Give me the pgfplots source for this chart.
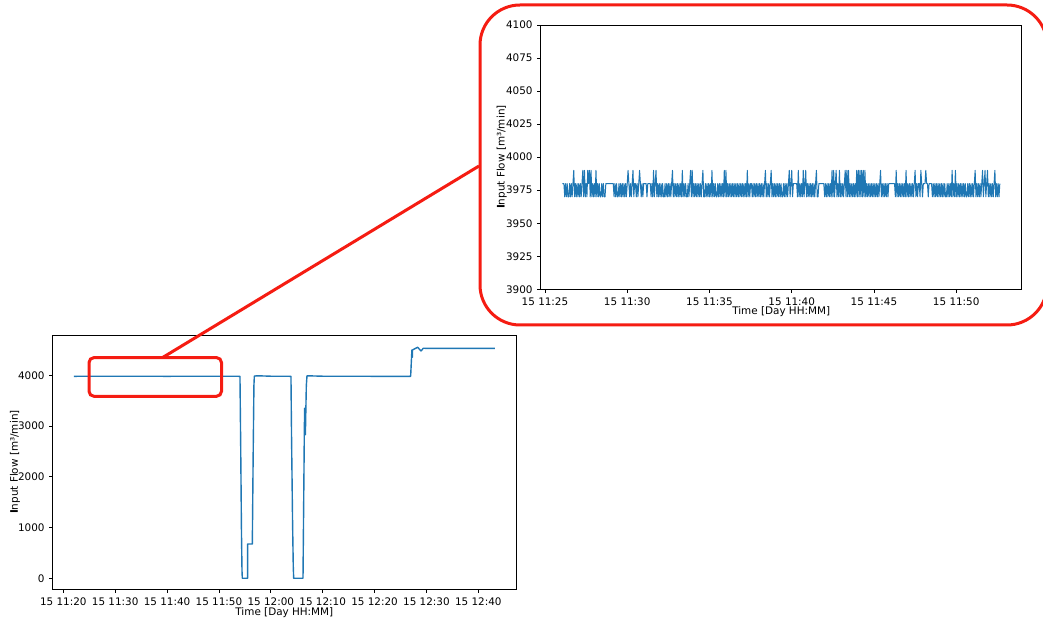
\documentclass[border=0pt]{standalone}
\usepackage{fontspec}
\setmainfont{DejaVu Sans}
\usepackage{pgfplots}
\pgfplotsset{compat=1.18}
\definecolor{mplblue}{HTML}{1F77B4}
\definecolor{zoomred}{RGB}{245,28,18}
\pgfplotsset{
 mystyle/.style={
  scale only axis,
  axis line style={line width=0.8bp, black},
  tick style={line width=0.8bp, black},
  tick align=outside,
  major tick length=3.5bp,
  xtick pos=bottom, ytick pos=left,
  xticklabel style={anchor=base, inner sep=0pt, yshift=-12.6bp},
  yticklabel style={anchor=east, inner sep=0pt, xshift=-4.5bp},
  x label style={anchor=base, inner sep=0pt},
  y label style={anchor=base, inner sep=0pt},
  every axis plot/.append style={line join=round},
 }
}
\begin{document}
\fontsize{10.4bp}{12.5bp}\selectfont
\begin{tikzpicture}[font=\fontsize{10.4bp}{12.5bp}\selectfont]
\path[use as bounding box] (0,0) rectangle (1043bp,620bp);

% ---------------- main axis ----------------
\begin{axis}[mystyle, name=main,
  at={(52.7bp,30.7bp)}, anchor=south west,
  width=463.3bp, height=254.3bp,
  xmin=17.96, xmax=107.27, ymin=-217, ymax=4794,
  xtick={20,30,40,50,60,70,80,90,100},
  xticklabels={15 11:20,15 11:30,15 11:40,15 11:50,15 12:00,15 12:10,15 12:20,15 12:30,15 12:40},
  ytick={0,1000,2000,3000,4000},
  yticklabels={0,1000,2000,3000,4000},
  xlabel={Time [Day HH:MM]},
  ylabel={\textbf{I}nput Flow [m³/min]},
  x label style={at={(axis description cs:0.5,-0.1045)}},
  y label style={at={(axis description cs:-0.075,0.5)}},
]
\addplot[mplblue, line width=1.4bp] coordinates {
(22.02,3980)(30.00,3982)(40.00,3980)(50.00,3982)(54.06,3980)
(54.20,2600)(54.35,900)(54.45,150)(54.51,0)(55.54,0)
(55.54,676)(56.44,676)(56.60,2400)(56.75,3800)(56.83,3985)(57.50,3990)
(60.00,3982)(63.89,3980)(64.00,2800)(64.20,1100)(64.33,250)(64.41,0)
(66.21,0)(66.46,2830)(66.52,3350)(66.55,2830)(66.58,3350)(66.61,2830)(66.64,3350)(66.67,2830)
(66.85,3800)(66.98,3990)(70.00,3982)(80.00,3980)(86.96,3980)
(87.20,4498)(87.28,4355)(87.32,4500)(88.31,4552)(88.96,4479)(89.40,4532)
(95.00,4530)(103.21,4530)
};
\end{axis}

% ---------------- inset axis ----------------
\begin{axis}[mystyle, name=inset,
  at={(540.7bp,330.7bp)}, anchor=south west,
  width=481bp, height=264.3bp,
  xmin=24.74, xmax=53.98, ymin=3900, ymax=4100,
  xtick={25,30,35,40,45,50},
  xticklabels={15 11:25,15 11:30,15 11:35,15 11:40,15 11:45,15 11:50},
  ytick={3900,3925,3950,3975,4000,4025,4050,4075,4100},
  yticklabels={3900,3925,3950,3975,4000,4025,4050,4075,4100},
  xlabel={Time [Day HH:MM]},
  ylabel={\textbf{I}nput Flow [m³/min]},
  x label style={at={(axis description cs:0.5,-0.0965)}},
  y label style={at={(axis description cs:-0.075,0.5)}},
]
\addplot[mplblue, line width=1bp] coordinates {
(26.05,3980)(26.10,3980)(26.15,3980)(26.20,3970)(26.25,3980)(26.30,3970)(26.35,3980)(26.40,3970)(26.45,3970)(26.50,3980)(26.55,3970)(26.60,3980)(26.65,3970)(26.70,3980)(26.75,3990)(26.80,3970)(26.85,3980)(26.90,3970)(26.95,3980)(27.00,3970)
(27.05,3980)(27.10,3970)(27.15,3980)(27.20,3970)(27.25,3980)(27.30,3990)(27.35,3970)(27.40,3990)(27.45,3970)(27.50,3980)(27.55,3970)(27.60,3990)(27.65,3980)(27.70,3990)(27.75,3970)(27.80,3990)(27.85,3970)(27.90,3980)(27.95,3970)(28.00,3980)
(28.05,3970)(28.10,3990)(28.15,3970)(28.20,3980)(28.25,3970)(28.30,3980)(28.35,3970)(28.40,3970)(28.45,3980)(28.50,3970)(28.55,3980)(28.60,3970)(28.65,3970)(28.70,3980)(28.75,3980)(28.80,3980)(28.85,3980)(28.90,3980)(28.95,3980)(29.00,3980)
(29.05,3980)(29.10,3980)(29.15,3980)(29.20,3970)(29.25,3980)(29.30,3970)(29.35,3980)(29.40,3970)(29.45,3970)(29.50,3980)(29.55,3970)(29.60,3980)(29.65,3970)(29.70,3980)(29.75,3970)(29.80,3980)(29.85,3970)(29.90,3980)(29.95,3970)(30.00,3980)
(30.05,3990)(30.10,3980)(30.15,3970)(30.20,3980)(30.25,3970)(30.30,3980)(30.35,3990)(30.40,3970)(30.45,3980)(30.50,3980)(30.55,3970)(30.60,3980)(30.65,3970)(30.70,3980)(30.75,3990)(30.80,3980)(30.85,3970)(30.90,3980)(30.95,3970)(31.00,3980)
(31.05,3980)(31.10,3980)(31.15,3980)(31.20,3970)(31.25,3980)(31.30,3980)(31.35,3980)(31.40,3980)(31.45,3970)(31.50,3980)(31.55,3970)(31.60,3990)(31.65,3970)(31.70,3980)(31.75,3990)(31.80,3970)(31.85,3980)(31.90,3970)(31.95,3980)(32.00,3970)
(32.05,3980)(32.10,3970)(32.15,3980)(32.20,3970)(32.25,3970)(32.30,3980)(32.35,3970)(32.40,3980)(32.45,3970)(32.50,3980)(32.55,3970)(32.60,3980)(32.65,3970)(32.70,3980)(32.75,3990)(32.80,3970)(32.85,3980)(32.90,3970)(32.95,3980)(33.00,3970)
(33.05,3980)(33.10,3970)(33.15,3980)(33.20,3970)(33.25,3980)(33.30,3970)(33.35,3990)(33.40,3970)(33.45,3980)(33.50,3970)(33.55,3980)(33.60,3970)(33.65,3970)(33.70,3980)(33.75,3970)(33.80,3980)(33.85,3990)(33.90,3970)(33.95,3990)(34.00,3970)
(34.05,3980)(34.10,3970)(34.15,3980)(34.20,3970)(34.25,3980)(34.30,3970)(34.35,3980)(34.40,3970)(34.45,3980)(34.50,3970)(34.55,3980)(34.60,3990)(34.65,3970)(34.70,3970)(34.75,3980)(34.80,3970)(34.85,3980)(34.90,3970)(34.95,3980)(35.00,3970)
(35.05,3980)(35.10,3970)(35.15,3990)(35.20,3970)(35.25,3980)(35.30,3970)(35.35,3980)(35.40,3970)(35.45,3970)(35.50,3980)(35.55,3970)(35.60,3980)(35.65,3970)(35.70,3980)(35.75,3970)(35.80,3980)(35.85,3970)(35.90,3990)(35.95,3970)(36.00,3990)
(36.05,3970)(36.10,3980)(36.15,3970)(36.20,3980)(36.25,3970)(36.30,3980)(36.35,3970)(36.40,3980)(36.45,3970)(36.50,3980)(36.55,3970)(36.60,3980)(36.65,3970)(36.70,3980)(36.75,3970)(36.80,3980)(36.85,3970)(36.90,3980)(36.95,3970)(37.00,3980)
(37.05,3970)(37.10,3980)(37.15,3970)(37.20,3980)(37.25,3970)(37.30,3990)(37.35,3970)(37.40,3980)(37.45,3970)(37.50,3980)(37.55,3980)(37.60,3970)(37.65,3980)(37.70,3970)(37.75,3980)(37.80,3970)(37.85,3980)(37.90,3970)(37.95,3980)(38.00,3970)
(38.05,3980)(38.10,3970)(38.15,3980)(38.20,3970)(38.25,3980)(38.30,3970)(38.35,3980)(38.40,3990)(38.45,3970)(38.50,3980)(38.55,3970)(38.60,3980)(38.65,3970)(38.70,3980)(38.75,3990)(38.80,3970)(38.85,3980)(38.90,3970)(38.95,3980)(39.00,3970)
(39.05,3980)(39.10,3970)(39.15,3980)(39.20,3970)(39.25,3980)(39.30,3970)(39.35,3980)(39.40,3970)(39.45,3970)(39.50,3980)(39.55,3970)(39.60,3980)(39.65,3970)(39.70,3980)(39.75,3970)(39.80,3980)(39.85,3990)(39.90,3970)(39.95,3980)(40.00,3990)
(40.05,3970)(40.10,3980)(40.15,3980)(40.20,3980)(40.25,3980)(40.30,3980)(40.35,3970)(40.40,3990)(40.45,3970)(40.50,3980)(40.55,3970)(40.60,3980)(40.65,3970)(40.70,3990)(40.75,3970)(40.80,3980)(40.85,3990)(40.90,3970)(40.95,3980)(41.00,3970)
(41.05,3980)(41.10,3970)(41.15,3980)(41.20,3970)(41.25,3980)(41.30,3970)(41.35,3980)(41.40,3970)(41.45,3980)(41.50,3990)(41.55,3970)(41.60,3970)(41.65,3980)(41.70,3980)(41.75,3980)(41.80,3980)(41.85,3980)(41.90,3980)(41.95,3980)(42.00,3970)
(42.05,3980)(42.10,3970)(42.15,3980)(42.20,3970)(42.25,3980)(42.30,3970)(42.35,3980)(42.40,3970)(42.45,3990)(42.50,3970)(42.55,3990)(42.60,3970)(42.65,3980)(42.70,3990)(42.75,3970)(42.80,3980)(42.85,3970)(42.90,3990)(42.95,3970)(43.00,3980)
(43.05,3970)(43.10,3980)(43.15,3970)(43.20,3980)(43.25,3990)(43.30,3970)(43.35,3990)(43.40,3970)(43.45,3990)(43.50,3970)(43.55,3980)(43.60,3970)(43.65,3980)(43.70,3970)(43.75,3980)(43.80,3970)(43.85,3980)(43.90,3970)(43.95,3990)(44.00,3970)
(44.05,3990)(44.10,3970)(44.15,3990)(44.20,3970)(44.25,3990)(44.30,3970)(44.35,3990)(44.40,3970)(44.45,3990)(44.50,3970)(44.55,3980)(44.60,3970)(44.65,3980)(44.70,3970)(44.75,3980)(44.80,3970)(44.85,3980)(44.90,3970)(44.95,3980)(45.00,3970)
(45.05,3980)(45.10,3970)(45.15,3980)(45.20,3970)(45.25,3980)(45.30,3970)(45.35,3980)(45.40,3990)(45.45,3970)(45.50,3980)(45.55,3970)(45.60,3980)(45.65,3970)(45.70,3980)(45.75,3970)(45.80,3980)(45.85,3970)(45.90,3980)(45.95,3980)(46.00,3980)
(46.05,3980)(46.10,3980)(46.15,3980)(46.20,3980)(46.25,3980)(46.30,3970)(46.35,3990)(46.40,3970)(46.45,3980)(46.50,3970)(46.55,3980)(46.60,3970)(46.65,3980)(46.70,3970)(46.75,3980)(46.80,3970)(46.85,3980)(46.90,3970)(46.95,3990)(47.00,3970)
(47.05,3980)(47.10,3970)(47.15,3980)(47.20,3970)(47.25,3980)(47.30,3970)(47.35,3980)(47.40,3970)(47.45,3980)(47.50,3990)(47.55,3970)(47.60,3980)(47.65,3970)(47.70,3980)(47.75,3980)(47.80,3970)(47.85,3990)(47.90,3980)(47.95,3970)(48.00,3980)
(48.05,3980)(48.10,3980)(48.15,3990)(48.20,3980)(48.25,3980)(48.30,3970)(48.35,3980)(48.40,3980)(48.45,3980)(48.50,3980)(48.55,3970)(48.60,3980)(48.65,3970)(48.70,3980)(48.75,3970)(48.80,3980)(48.85,3970)(48.90,3980)(48.95,3970)(49.00,3980)
(49.05,3970)(49.10,3980)(49.15,3970)(49.20,3980)(49.25,3970)(49.30,3980)(49.35,3970)(49.40,3970)(49.45,3980)(49.50,3970)(49.55,3980)(49.60,3970)(49.65,3980)(49.70,3970)(49.75,3990)(49.80,3970)(49.85,3980)(49.90,3970)(49.95,3990)(50.00,3970)
(50.05,3980)(50.10,3970)(50.15,3980)(50.20,3970)(50.25,3980)(50.30,3970)(50.35,3980)(50.40,3970)(50.45,3980)(50.50,3970)(50.55,3980)(50.60,3970)(50.65,3970)(50.70,3980)(50.75,3970)(50.80,3980)(50.85,3970)(50.90,3980)(50.95,3970)(51.00,3980)
(51.05,3970)(51.10,3980)(51.15,3990)(51.20,3970)(51.25,3980)(51.30,3970)(51.35,3980)(51.40,3970)(51.45,3980)(51.50,3970)(51.55,3980)(51.60,3990)(51.65,3970)(51.70,3980)(51.75,3990)(51.80,3970)(51.85,3980)(51.90,3990)(51.95,3970)(52.00,3980)
(52.05,3970)(52.10,3980)(52.15,3970)(52.20,3980)(52.25,3970)(52.30,3980)(52.35,3990)(52.40,3970)(52.45,3980)(52.50,3970)(52.55,3980)(52.60,3970)(52.65,3980)
};
\end{axis}

% ---------------- zoom annotations ----------------
\draw[zoomred, line width=3bp, rounded corners=40bp] (480bp,295bp) rectangle (1047bp,615bp);
\draw[zoomred, line width=3bp, rounded corners=5bp] (89bp,223.7bp) rectangle (221.5bp,262.4bp);
\draw[zoomred, line width=3bp] (162.5bp,262.4bp) -- (479bp,454bp);
\end{tikzpicture}
\end{document}
